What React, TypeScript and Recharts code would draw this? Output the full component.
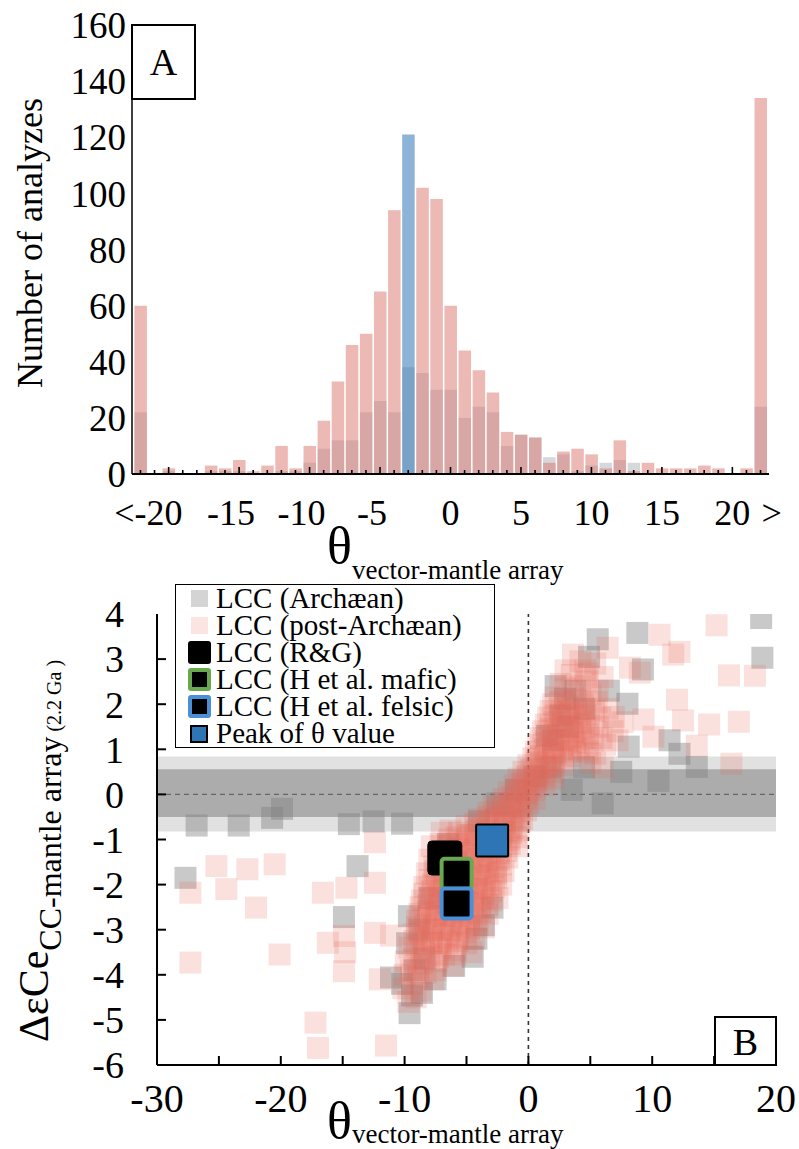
import React from "react";
import {
  BarChart,
  Bar,
  Cell,
  XAxis,
  YAxis,
  ScatterChart,
  Scatter,
  ReferenceArea,
  ReferenceLine,
  Legend,
} from "recharts";

const SERIF = '"Liberation Serif", "Times New Roman", serif';

// ---------- panel A: histogram of theta ----------
const thetaBins = [
  -22, -21, -20, -19, -18, -17, -16, -15, -14, -13, -12, -11, -10, -9, -8, -7, -6, -5, -4, -3, -2, -1,
  0, 1, 2, 3, 4, 5, 6, 7, 8, 9, 10, 11, 12, 13, 14, 15, 16, 17, 18, 19, 20, 21, 22,
];
const postArchaeanCounts = [
  60, 0, 2, 0, 0, 3, 2, 5, 1, 3, 10, 2, 10, 19, 33, 46, 50, 65, 94, 121, 102, 98,
  60, 44, 37, 29, 15, 14, 13, 4, 8, 9, 7, 2, 12, 1, 4, 2, 2, 2, 3, 2, 0, 2, 134,
];
const archaeanCounts = [
  22, 0, 1, 0, 0, 1, 1, 1, 0, 0, 1, 1, 4, 9, 12, 12, 22, 26, 22, 38, 36, 30,
  30, 20, 24, 22, 10, 14, 13, 6, 7, 1, 3, 4, 5, 4, 0, 0, 0, 0, 0, 0, 0, 0, 24,
];
const peakBin = -3;
const countTicks = [0, 20, 40, 60, 80, 100, 120, 140, 160];
const histLabels: Record<number, string> = {
  [-22]: "<-20",
  [-15]: "-15",
  [-10]: "-10",
  [-5]: "-5",
  0: "0",
  5: "5",
  10: "10",
  15: "15",
  20: "20",
  22: ">",
};

// ---------- panel B: dCe vs theta ----------
const archaeanPts: [number, number][] = [
  [-27.7, -1.85], [-26.8, -0.69], [-23.4, -0.69], [-20.7, -0.52], [-19.9, -0.32],
  [-14.5, -0.66], [-12.5, -0.6], [-10.2, -0.65], [-13.8, -1.59], [-14.9, -2.72],
  [-11.1, -4.06], [-9.4, -4.46], [-9.6, -4.85], [-9.65, -2.7], [-8.8, -3.0],
  [-8.4, -3.64], [-7.5, -4.1], [-4.2, -3.2], [-4.5, -3.6], [-2.9, -2.51], [-3.6, -2.9],
  [-9.8, -3.3], [-9.2, -3.9], [-10.2, -4.2], [-8.6, -4.4], [-6.0, -3.8],
  [-8.0, -2.3], [-6.5, -1.1], [-4.0, -0.6], [-2.5, -0.2], [-1.0, 0.1], [0.5, 0.4],
  [1.8, 0.6], [2.0, 1.2], [1.5, 1.3], [2.2, 2.4], [2.6, 1.75], [2.96, 2.12], [3.8, 2.3],
  [4.5, 1.9], [3.2, 1.5], [4.9, 3.05], [5.6, 3.44], [6.5, 2.3], [8.0, 2.01], [8.1, 1.06],
  [8.8, 3.58], [9.25, 2.77], [11.4, 1.2], [12.2, 0.9], [13.6, 0.61], [18.8, 3.91],
  [18.9, 3.03], [3.5, 0.1], [6.0, -0.2], [7.5, 0.5], [10.5, 0.3], [4.5, 0.6],
];

const postArchaeanPts: [number, number][] = [
  // scattered squares
  [-25.2, -1.59], [-22.7, -1.66], [-20.5, -1.55], [-27.3, -2.18], [-24.4, -2.1], [-22.0, -2.51],
  [-27.3, -3.73], [-20.1, -3.55], [-16.6, -2.18], [-14.7, -2.07], [-17.2, -5.06], [-17.0, -5.62],
  [-11.5, -5.57], [-16.2, -3.29], [-14.9, -3.14], [-14.9, -3.92], [-14.8, -3.5], [-12.4, -1.96],
  [-12.4, -1.06], [-12.4, -3.07], [-11.1, -3.13], [-12.0, -4.1],
  [15.2, 3.75], [16.2, 2.64], [18.3, 2.63], [17.0, 1.61], [14.6, 1.55], [12.2, 3.16], [10.6, 3.54],
  [11.7, 3.1], [8.2, 2.81], [6.4, 3.25], [4.8, 2.68], [9.3, 1.66], [10.1, 1.28], [12.5, 1.64],
  [12.0, 2.1], [13.6, 1.08], [16.4, 0.68], [6.9, 1.72], [9.0, 2.7],
  // dense lower wedge
  [-9.7, -4.6], [-9.1, -4.5],
  [-10.1, -4.3], [-9.4, -4.2], [-8.7, -4.35],
  [-10.0, -4.0], [-9.5, -3.9], [-8.9, -4.05], [-8.3, -3.95], [-7.7, -4.1],
  [-9.9, -3.7], [-9.2, -3.65], [-8.6, -3.75], [-8.0, -3.6], [-7.4, -3.7], [-6.8, -3.55],
  [-9.6, -3.4], [-9.0, -3.35], [-8.4, -3.45], [-7.8, -3.3], [-7.1, -3.4], [-6.5, -3.3], [-5.9, -3.45],
  [-9.3, -3.1], [-8.7, -3.05], [-8.1, -3.15], [-7.5, -3.0], [-6.9, -3.1], [-6.3, -3.0], [-5.7, -3.15], [-5.1, -3.05],
  [-9.0, -2.8], [-8.4, -2.75], [-7.8, -2.85], [-7.2, -2.7], [-6.6, -2.8], [-6.0, -2.7], [-5.4, -2.85], [-4.8, -2.75], [-4.2, -2.8],
  [-8.7, -2.5], [-8.1, -2.45], [-7.5, -2.55], [-6.9, -2.4], [-6.3, -2.5], [-5.7, -2.45], [-5.1, -2.55], [-4.5, -2.4], [-3.9, -2.5], [-3.3, -2.45],
  [-8.4, -2.2], [-7.8, -2.15], [-7.2, -2.25], [-6.6, -2.1], [-6.0, -2.2], [-5.4, -2.15], [-4.8, -2.25], [-4.2, -2.1], [-3.6, -2.2], [-3.0, -2.15],
  [-8.0, -1.9], [-7.4, -1.85], [-6.8, -1.95], [-6.2, -1.8], [-5.6, -1.9], [-5.0, -1.85], [-4.4, -1.95], [-3.8, -1.8], [-3.2, -1.9], [-2.6, -1.85],
  [-7.6, -1.6], [-7.0, -1.55], [-6.4, -1.65], [-5.8, -1.5], [-5.2, -1.6], [-4.6, -1.55], [-4.0, -1.65], [-3.4, -1.5], [-2.8, -1.6], [-2.2, -1.55],
  [-7.2, -1.3], [-6.6, -1.25], [-6.0, -1.35], [-5.4, -1.2], [-4.8, -1.3], [-4.2, -1.25], [-3.6, -1.35], [-3.0, -1.2], [-2.4, -1.3], [-1.8, -1.25],
  [-6.4, -1.0], [-5.8, -0.95], [-5.2, -1.05], [-4.6, -0.9], [-4.0, -1.0], [-3.4, -0.95], [-2.8, -1.05], [-2.2, -0.9], [-1.6, -1.0], [-1.0, -0.95],
  [-5.0, -0.7], [-4.3, -0.65], [-3.7, -0.75], [-3.1, -0.6], [-2.5, -0.7], [-1.9, -0.65], [-1.3, -0.75], [-0.7, -0.6],
  [-3.2, -0.4], [-2.6, -0.35], [-2.0, -0.45], [-1.4, -0.3], [-0.8, -0.4], [-0.2, -0.35],
  // second pass over the upper part of the wedge, where the cloud is densest
  [-8.9, -3.85], [-7.5, -3.9], [-6.1, -3.8],
  [-8.7, -3.5], [-7.3, -3.6], [-5.9, -3.55], [-4.6, -3.5],
  [-9.2, -3.25], [-8.5, -3.2], [-7.8, -3.25], [-7.1, -3.3], [-6.4, -3.2], [-5.7, -3.25], [-5.0, -3.3], [-4.4, -3.2],
  [-9.0, -2.95], [-8.3, -2.9], [-7.6, -2.95], [-6.9, -3.0], [-6.2, -2.9], [-5.5, -2.95], [-4.8, -3.0], [-4.1, -2.9], [-3.6, -2.95],
  [-8.8, -2.65], [-8.1, -2.6], [-7.4, -2.65], [-6.7, -2.7], [-6.0, -2.6], [-5.3, -2.65], [-4.6, -2.7], [-3.9, -2.6], [-3.3, -2.65],
  [-8.6, -2.35], [-7.9, -2.3], [-7.2, -2.35], [-6.5, -2.4], [-5.8, -2.3], [-5.1, -2.35], [-4.4, -2.4], [-3.7, -2.3], [-3.0, -2.35], [-2.5, -2.3],
  [-8.4, -2.05], [-7.7, -2.0], [-7.0, -2.05], [-6.3, -2.1], [-5.6, -2.0], [-4.9, -2.05], [-4.2, -2.1], [-3.5, -2.0], [-2.8, -2.05], [-2.2, -2.0],
  [-8.2, -1.75], [-7.5, -1.7], [-6.8, -1.75], [-6.1, -1.8], [-5.4, -1.7], [-4.7, -1.75], [-4.0, -1.8], [-3.3, -1.7], [-2.6, -1.75], [-2.0, -1.7],
  [-8.0, -1.45], [-7.3, -1.4], [-6.6, -1.45], [-5.9, -1.5], [-5.2, -1.4], [-4.5, -1.45], [-3.8, -1.5], [-3.1, -1.4], [-2.4, -1.45], [-1.7, -1.4],
  [-7.8, -1.15], [-7.1, -1.1], [-6.4, -1.15], [-5.7, -1.2], [-5.0, -1.1], [-4.3, -1.15], [-3.6, -1.2], [-2.9, -1.1], [-2.2, -1.15], [-1.5, -1.1], [-0.9, -1.15],
  [-7.0, -0.85], [-6.3, -0.8], [-5.6, -0.85], [-4.9, -0.9], [-4.2, -0.8], [-3.5, -0.85], [-2.8, -0.9], [-2.1, -0.8], [-1.4, -0.85], [-0.8, -0.8],
  [-4.0, -0.55], [-3.3, -0.5], [-2.6, -0.55], [-1.9, -0.6], [-1.2, -0.5], [-0.5, -0.55],
  [-2.8, -0.25], [-2.1, -0.2], [-1.4, -0.25], [-0.7, -0.3], [0.0, -0.2],
  // through the origin and upper lobe
  [-2.0, -0.1], [-1.3, -0.05], [-0.7, -0.15], [-0.1, 0.0], [0.5, -0.1],
  [-1.6, 0.05], [-0.9, 0.1], [-0.2, 0.05], [0.5, 0.1],
  [-1.1, 0.2], [-0.5, 0.25], [0.1, 0.15], [0.7, 0.3], [1.3, 0.2],
  [-0.8, 0.35], [-0.1, 0.4], [0.6, 0.35], [1.3, 0.4], [2.0, 0.35],
  [-0.4, 0.5], [0.2, 0.55], [0.8, 0.45], [1.4, 0.6], [2.0, 0.5],
  [0.0, 0.65], [0.7, 0.7], [1.4, 0.65], [2.1, 0.7], [2.8, 0.65],
  [0.4, 0.8], [1.0, 0.85], [1.6, 0.75], [2.2, 0.9], [2.8, 0.8], [3.4, 0.85],
  [0.6, 0.95], [1.3, 1.0], [2.0, 0.95], [2.7, 1.0], [3.4, 0.95], [4.1, 1.0], [4.8, 0.95],
  [0.8, 1.1], [1.4, 1.15], [2.0, 1.05], [2.6, 1.2], [3.2, 1.1], [3.8, 1.15], [4.4, 1.05],
  [1.0, 1.25], [1.7, 1.3], [2.4, 1.25], [3.1, 1.2], [3.8, 1.3], [4.5, 1.25], [5.2, 1.2], [5.9, 1.25],
  [1.2, 1.4], [1.8, 1.45], [2.4, 1.35], [3.0, 1.5], [3.6, 1.4], [4.2, 1.45], [4.8, 1.35],
  [1.4, 1.55], [2.1, 1.6], [2.8, 1.55], [3.5, 1.5], [4.2, 1.6], [4.9, 1.55], [5.6, 1.5],
  [1.6, 1.7], [2.2, 1.75], [2.8, 1.65], [3.4, 1.8], [4.0, 1.7], [4.6, 1.75],
  [1.8, 1.85], [2.5, 1.9], [3.2, 1.85], [3.9, 1.8], [4.6, 1.9], [5.3, 1.85],
  [2.0, 2.0], [2.6, 2.05], [3.2, 1.95], [3.8, 2.1], [4.4, 2.0],
  [5.4, 0.9], [6.2, 1.1], [6.8, 1.4], [5.8, 1.7], [6.4, 1.9], [7.2, 1.2], [5.5, 2.05],
  [7.6, 1.6], [6.0, 0.6], [5.0, 0.7],
  [2.2, 2.15], [3.6, 2.15], [5.0, 2.2], [3.0, 2.35], [4.2, 2.4], [2.6, 2.45], [4.7, 2.5],
  [3.5, 2.65], [3.0, 2.75], [4.6, 2.75], [4.2, 2.95], [3.6, 3.1], [5.4, 2.9], [6.0, 2.6], [5.6, 2.3],
];

const lccRG: [number, number][] = [[-6.75, -1.41]];
const lccMafic: [number, number][] = [[-5.8, -1.76]];
const lccFelsic: [number, number][] = [[-5.8, -2.42]];
const thetaPeak: [number, number][] = [[-2.93, -1.02]];

const thetaTicksB = [-30, -25, -20, -15, -10, -5, 0, 5, 10, 15, 20];
const dceTicks = [-6, -5, -4, -3, -2, -1, 0, 1, 2, 3, 4];

const toXY = (pts: [number, number][]) => pts.map(([x, y]) => ({ x, y }));

function HistTick(props: any) {
  const { x, y, payload } = props;
  const v = payload.value as number;
  const major = v % 5 === 0 && Math.abs(v) <= 20;
  const label = histLabels[v];
  let dx = 0;
  if (v < 0 && v > -22) dx = -8;
  if (v === -22) dx = 8;
  if (v === 22) dx = 11;
  return (
    <g>
      <line x1={x} x2={x} y1={y} y2={y - (major ? 7 : 4)} stroke="#000" strokeWidth={1.6} />
      {label && (
        <text x={x + dx} y={y + 51} textAnchor="middle" fontSize={36} fontFamily={SERIF} fill="#000">
          {label}
        </text>
      )}
    </g>
  );
}

function ScatterXTick(props: any) {
  const { x, y, payload } = props;
  const v = payload.value as number;
  return (
    <g>
      {v > -30 && v < 20 && <line x1={x} x2={x} y1={y} y2={y - 9} stroke="#000" strokeWidth={2} />}
      {v % 10 === 0 && (
        <text x={x} y={y + 47} textAnchor="middle" fontSize={40} fontFamily={SERIF} fill="#000">
          {v}
        </text>
      )}
    </g>
  );
}

function ScatterYTick(props: any) {
  const { x, y, payload } = props;
  const v = payload.value as number;
  return (
    <g>
      {v > -6 && v < 4 && <line x1={x} x2={x + 9} y1={y} y2={y} stroke="#000" strokeWidth={2} />}
      <text x={x - 33} y={y} dy="0.35em" textAnchor="end" fontSize={38} fontFamily={SERIF} fill="#000">
        {v}
      </text>
    </g>
  );
}

const square = (size: number, fill: string, opacity: number) => (p: any) => (
  <rect x={p.cx - size / 2} y={p.cy - size / 2} width={size} height={size} fill={fill} fillOpacity={opacity} />
);

const framedSquare = (size: number, fill: string, stroke: string, sw: number, r: number) => (p: any) => (
  <rect
    x={p.cx - size / 2 + sw / 2}
    y={p.cy - size / 2 + sw / 2}
    width={size - sw}
    height={size - sw}
    rx={r}
    fill={fill}
    stroke={stroke}
    strokeWidth={sw}
  />
);

const legendRows = [
  { label: "LCC (Archæan)", icon: <div style={{ width: 17, height: 17, background: "#d4d4d4" }} /> },
  { label: "LCC (post-Archæan)", icon: <div style={{ width: 17, height: 17, background: "#fbe4e1" }} /> },
  { label: "LCC (R&G)", icon: <div style={{ width: 23, height: 23, background: "#000", borderRadius: 3 }} /> },
  {
    label: "LCC (H et al. mafic)",
    icon: <div style={{ width: 15, height: 15, background: "#000", border: "4px solid #6aa84f", borderRadius: 3 }} />,
  },
  {
    label: "LCC (H et al. felsic)",
    icon: <div style={{ width: 15, height: 15, background: "#000", border: "4px solid #4a90d9", borderRadius: 3 }} />,
  },
  {
    label: "Peak of θ value",
    icon: <div style={{ width: 14, height: 14, background: "#2e75b6", border: "2px solid #000" }} />,
  },
];

function LegendBox() {
  return (
    <div
      style={{
        width: 320,
        height: 164,
        boxSizing: "border-box",
        border: "1.5px solid #000",
        background: "#fff",
        fontFamily: SERIF,
        fontSize: 29,
        color: "#000",
      }}
    >
      {legendRows.map((r) => (
        <div key={r.label} style={{ display: "flex", alignItems: "center", height: 27, lineHeight: "27px" }}>
          <div style={{ width: 34, display: "flex", justifyContent: "center", paddingLeft: 6 }}>{r.icon}</div>
          <span style={{ whiteSpace: "nowrap" }}>{r.label}</span>
        </div>
      ))}
    </div>
  );
}

export default function App() {
  const histData = thetaBins.map((bin, i) => ({
    bin,
    post: postArchaeanCounts[i],
    arch: archaeanCounts[i],
  }));

  return (
    <div
      style={{
        position: "absolute",
        left: 0,
        top: 0,
        width: 799,
        height: 1149,
        background: "#fff",
        fontFamily: SERIF,
        overflow: "hidden",
      }}
    >
      <div style={{ position: "absolute", left: 0, top: 0 }}>
        <BarChart width={799} height={580} data={histData} margin={{ top: 25, right: 30, bottom: 6, left: 0 }}>
          <XAxis
            type="number"
            dataKey="bin"
            domain={[-22.6, 22.6]}
            ticks={thetaBins}
            interval={0}
            tickSize={0}
            tickMargin={0}
            tickLine={false}
            tick={<HistTick />}
            axisLine={{ stroke: "#000", strokeWidth: 2 }}
            height={100}
            allowDataOverflow
          />
          <XAxis xAxisId="under" type="number" dataKey="bin" domain={[-22.6, 22.6]} hide allowDataOverflow />
          <XAxis
            xAxisId="top"
            orientation="top"
            type="number"
            dataKey="bin"
            domain={[-22.6, 22.6]}
            tick={false}
            tickLine={false}
            height={0}
            axisLine={{ stroke: "#000", strokeWidth: 1.5 }}
          />
          <YAxis
            type="number"
            domain={[0, 160]}
            ticks={countTicks}
            width={132}
            tickSize={0}
            tickMargin={6}
            tickLine={false}
            axisLine={{ stroke: "#000", strokeWidth: 1.5 }}
            tick={{ fontSize: 37, fill: "#000", fontFamily: SERIF }}
          />
          <YAxis
            yAxisId="right"
            orientation="right"
            type="number"
            domain={[0, 160]}
            width={0}
            tick={false}
            tickLine={false}
            axisLine={{ stroke: "#000", strokeWidth: 2 }}
          />
          <Bar xAxisId="under" dataKey="arch" barSize={12.5} fill="#8a939c" fillOpacity={0.35} isAnimationActive={false} />
          <Bar dataKey="post" barSize={12.5} isAnimationActive={false}>
            {histData.map((d) => (
              <Cell
                key={d.bin}
                fill={d.bin === peakBin ? "#2f74b5" : "#d9736b"}
                fillOpacity={d.bin === peakBin ? 0.55 : 0.5}
              />
            ))}
          </Bar>
        </BarChart>
      </div>

      <div style={{ position: "absolute", left: 0, top: 580 }}>
        <ScatterChart width={799} height={569} margin={{ top: 34, right: 23, bottom: 0, left: 0 }}>
          <XAxis
            type="number"
            dataKey="x"
            domain={[-30, 20]}
            ticks={thetaTicksB}
            interval={0}
            tickSize={0}
            tickMargin={0}
            tickLine={false}
            tick={<ScatterXTick />}
            axisLine={{ stroke: "#000", strokeWidth: 2 }}
            height={84}
            allowDataOverflow
          />
          <XAxis
            xAxisId="top"
            orientation="top"
            type="number"
            domain={[-30, 20]}
            tick={false}
            tickLine={false}
            height={0}
            axisLine={{ stroke: "#000", strokeWidth: 2 }}
          />
          <YAxis
            type="number"
            dataKey="y"
            domain={[-6, 4]}
            ticks={dceTicks}
            interval={0}
            width={157}
            tickSize={0}
            tickMargin={0}
            tickLine={false}
            tick={<ScatterYTick />}
            axisLine={{ stroke: "#000", strokeWidth: 2 }}
            allowDataOverflow
          />
          <YAxis
            yAxisId="right"
            orientation="right"
            type="number"
            domain={[-6, 4]}
            width={0}
            tick={false}
            tickLine={false}
            axisLine={{ stroke: "#000", strokeWidth: 2 }}
          />
          <Scatter data={toXY(archaeanPts)} shape={square(22, "#7f7f7f", 0.42)} isAnimationActive={false} />
          <Scatter data={toXY(postArchaeanPts)} shape={square(22, "#e46b58", 0.2)} isAnimationActive={false} />
          <Scatter data={toXY(lccRG)} shape={framedSquare(35, "#000", "#000", 1, 4)} isAnimationActive={false} />
          <Scatter data={toXY(lccMafic)} shape={framedSquare(34, "#000", "#6aa84f", 4, 3)} isAnimationActive={false} />
          <Scatter data={toXY(lccFelsic)} shape={framedSquare(34, "#000", "#4a90d9", 4, 3)} isAnimationActive={false} />
          <Scatter data={toXY(thetaPeak)} shape={framedSquare(34, "#2e75b6", "#000", 2, 1)} isAnimationActive={false} />
          <ReferenceArea y1={-0.82} y2={0.84} fill="#9a9a9a" fillOpacity={0.3} stroke="none" />
          <ReferenceArea y1={-0.5} y2={0.56} fill="#646464" fillOpacity={0.42} stroke="none" />
          <ReferenceLine y={0} stroke="#666" strokeDasharray="5 4" strokeWidth={1.2} />
          <ReferenceLine x={0} stroke="#333" strokeDasharray="4 4" strokeWidth={1.6} />
          <Legend
            layout="vertical"
            align="center"
            verticalAlign="middle"
            wrapperStyle={{ position: "absolute", left: 175, top: 4, width: 320, height: 164 }}
            content={() => <LegendBox />}
          />
        </ScatterChart>
      </div>

      <svg
        width={799}
        height={1149}
        style={{ position: "absolute", left: 0, top: 0, pointerEvents: "none" }}
        fontFamily={SERIF}
      >
        <rect x={132} y={25} width={63} height={74} fill="#fff" stroke="#000" strokeWidth={2} />
        <text x={163.5} y={75} textAnchor="middle" fontSize={38}>A</text>
        <text transform="rotate(-90)" x={-243} y={42} textAnchor="middle" fontSize={36}>
          Number of analyzes
        </text>
        <text x={327} y={563} fontSize={52}>
          θ<tspan fontSize={27} dy={16}>vector-mantle array</tspan>
        </text>

        <rect x={715} y={1017} width={61} height={48} fill="#fff" stroke="#000" strokeWidth={2} />
        <text x={745.5} y={1055} textAnchor="middle" fontSize={38}>B</text>
        <text x={327} y={1138} fontSize={52}>
          θ<tspan fontSize={27} dy={5}>vector-mantle array</tspan>
        </text>
        <text transform="rotate(-90)" x={-1042} y={48} fontSize={42}>
          ΔεCe<tspan fontSize={32} dy={13}>CC-mantle array</tspan>
          <tspan fontSize={20}> (2.2 Ga )</tspan>
        </text>
      </svg>
    </div>
  );
}
